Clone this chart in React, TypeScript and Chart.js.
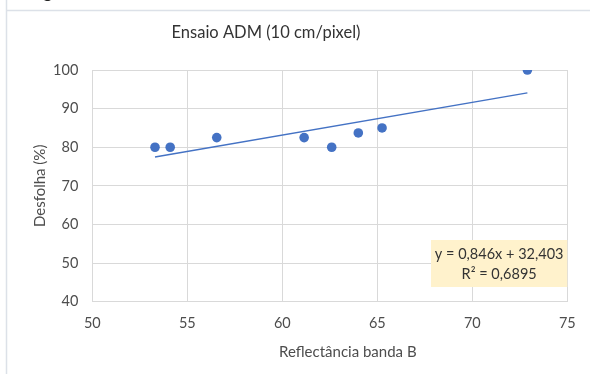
import React, { useEffect, useRef } from "react";
import { Chart, registerables } from "chart.js";

Chart.register(...registerables);

const chartTitle = "Ensaio ADM (10 cm/pixel)";
const xAxisTitle = "Reflectância banda B";
const yAxisTitle = "Desfolha (%)";
const reflectance = [53.3, 54.1, 56.55, 61.15, 62.6, 64.0, 65.25, 72.9];
const defoliation = [80, 80, 82.5, 82.5, 80, 83.7, 85, 100];
const trendSlope = 0.846;
const trendIntercept = 32.403;
const equationLines = ["y = 0,846x + 32,403", "R² = 0,6895"];
const xTicks = [50, 55, 60, 65, 70, 75];
const yTicks = [40, 50, 60, 70, 80, 90, 100];

const FONT = "Lato, 'Open Sans', sans-serif";
const BLUE = "#4472C4";
const GRID = "#D9D9D9";
const TEXT = "#4d4d4d";

export default function App() {
  const ref = useRef<HTMLCanvasElement | null>(null);

  useEffect(() => {
    if (!ref.current) return;
    const xMin = Math.min(...reflectance);
    const xMax = Math.max(...reflectance);
    const trend = [xMin, xMax].map((x) => ({ x, y: trendSlope * x + trendIntercept }));

    const decor = {
      id: "decor",
      beforeDraw(chart: any) {
        const ctx = chart.ctx;
        ctx.save();
        ctx.fillStyle = "#ffffff";
        ctx.fillRect(0, 0, chart.width, chart.height);
        ctx.strokeStyle = "#DCE1E8";
        ctx.lineWidth = 1.5;
        ctx.beginPath();
        ctx.moveTo(6.5, 0);
        ctx.lineTo(6.5, chart.height);
        ctx.moveTo(7, 10.5);
        ctx.lineTo(chart.width, 10.5);
        ctx.stroke();
        ctx.fillStyle = "#222";
        ctx.font = `18px ${FONT}`;
        ctx.textBaseline = "alphabetic";
        ctx.fillText("g", 43, -2);
        ctx.restore();
      },
      afterDraw(chart: any) {
        const ctx = chart.ctx;
        const a = chart.chartArea;
        ctx.save();
        // title
        ctx.fillStyle = "#333333";
        ctx.font = `16.5px ${FONT}`;
        ctx.textAlign = "center";
        ctx.textBaseline = "middle";
        ctx.fillText(chartTitle, 266, 33);
        // axis titles
        ctx.fillStyle = TEXT;
        ctx.font = `15px ${FONT}`;
        ctx.fillText(xAxisTitle, (a.left + a.right) / 2 + 18, 352);
        ctx.save();
        ctx.translate(40, (a.top + a.bottom) / 2);
        ctx.rotate(-Math.PI / 2);
        ctx.fillText(yAxisTitle, 0, 0);
        ctx.restore();
        // equation box
        const bx = 431, by = 240, bw = a.right - 431, bh = 47;
        ctx.fillStyle = "#FFF2CC";
        ctx.fillRect(bx, by, bw, bh);
        ctx.fillStyle = "#333333";
        ctx.font = `14.5px ${FONT}`;
        ctx.fillText(equationLines[0], bx + bw / 2, 254);
        ctx.fillText(equationLines[1], bx + bw / 2, 274);
        ctx.restore();
      },
    };

    const chart = new Chart(ref.current, {
      type: "scatter",
      data: {
        datasets: [
          {
            type: "line",
            label: "Linear",
            data: trend,
            borderColor: BLUE,
            borderWidth: 1.5,
            pointRadius: 0,
            fill: false,
          } as any,
          {
            label: "Desfolha",
            data: reflectance.map((x, i) => ({ x, y: defoliation[i] })),
            backgroundColor: BLUE,
            borderColor: BLUE,
            pointRadius: 4.8,
            pointBorderWidth: 0,
          },
        ],
      },
      options: {
        responsive: false,
        animation: false,
        devicePixelRatio: 1,
        layout: { padding: { left: 0, top: 70, right: 22.7, bottom: 0 } },
        plugins: { legend: { display: false }, tooltip: { enabled: false }, title: { display: false } },
        scales: {
          x: {
            type: "linear",
            min: xTicks[0],
            max: xTicks[xTicks.length - 1],
            afterFit: (s: any) => { s.height = 72.3; },
            afterBuildTicks: (s: any) => { s.ticks = xTicks.map((v) => ({ value: v })); },
            ticks: { color: TEXT, font: { family: FONT, size: 14.5 }, padding: 13 },
            grid: { color: GRID, lineWidth: 1, drawTicks: false },
            border: { color: GRID, width: 1 },
          },
          y: {
            type: "linear",
            min: yTicks[0],
            max: yTicks[yTicks.length - 1],
            afterFit: (s: any) => { s.width = 92.3; },
            afterBuildTicks: (s: any) => { s.ticks = yTicks.map((v) => ({ value: v })); },
            ticks: { color: TEXT, font: { family: FONT, size: 14.5 }, padding: 14 },
            grid: { color: GRID, lineWidth: 1, drawTicks: false },
            border: { color: GRID, width: 1 },
          },
        },
      },
      plugins: [decor],
    } as any);
    return () => chart.destroy();
  }, []);

  return (
    <div style={{ position: "absolute", left: 0, top: 0, width: 590, height: 374 }}>
      <canvas ref={ref} width={590} height={374} style={{ display: "block" }} />
    </div>
  );
}
